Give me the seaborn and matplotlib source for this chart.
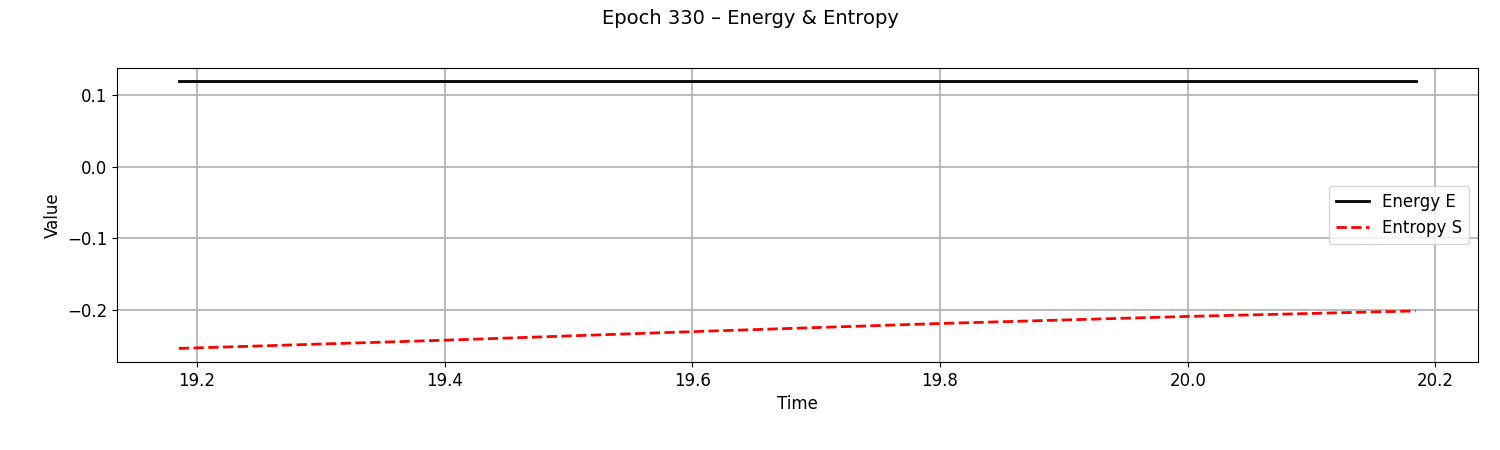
import matplotlib
matplotlib.use("Agg")
import matplotlib.pyplot as plt
import seaborn as sns
import pandas as pd

time = [19.1855, 19.4, 19.6, 19.8, 20.0, 20.184]
energy = [0.1194, 0.1194, 0.1194, 0.1194, 0.1194, 0.1194]
entropy = [-0.2545, -0.2430, -0.2310, -0.2196, -0.2097, -0.2020]
yticks = [-0.2, -0.1, 0.0, 0.1]

plt.rcParams['font.family'] = ['DejaVu Sans']
fig, ax = plt.subplots(figsize=(15, 4.5), dpi=100)
df = pd.DataFrame({"t": time, "E": energy, "S": entropy})
sns.lineplot(data=df, x="t", y="E", ax=ax, color="black", linewidth=2, label="Energy E")
sns.lineplot(data=df, x="t", y="S", ax=ax, color="red", linewidth=2, linestyle="--", label="Entropy S")
ax.set_yticks(yticks)
ax.set_xlabel("Time", fontsize=12)
ax.set_ylabel("Value", fontsize=12)
ax.tick_params(labelsize=12)
ax.grid(True, color="#b0b0b0", linewidth=1.2)
ax.legend(loc="center right", fontsize=12)
fig.suptitle("Epoch 330 – Energy & Entropy", fontsize=14)
fig.subplots_adjust(left=0.078, right=0.985, top=0.849, bottom=0.196)
fig.savefig("out.png")
